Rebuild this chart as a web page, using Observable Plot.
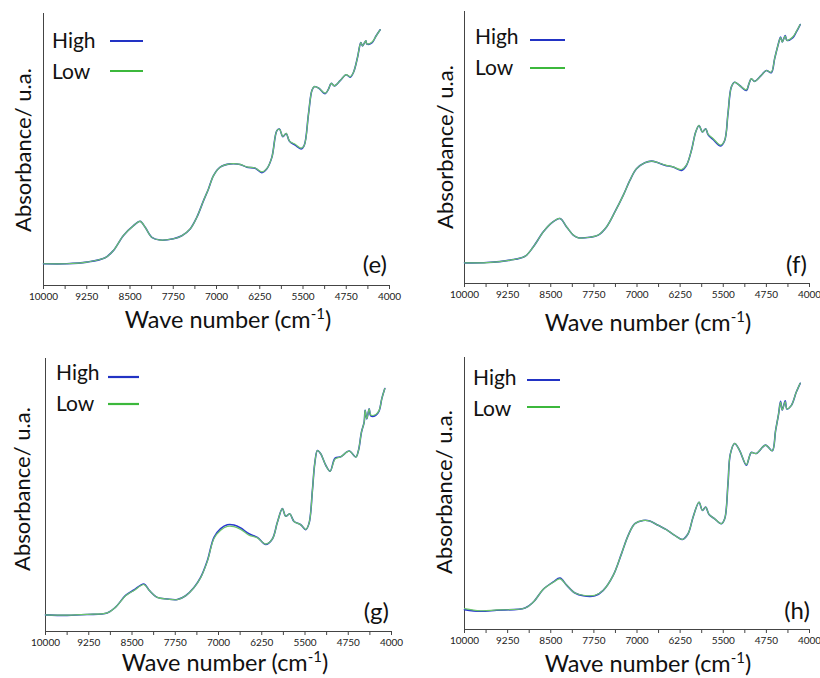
<!DOCTYPE html>
<html><head><meta charset="utf-8">
<script src="https://cdn.jsdelivr.net/npm/d3@7"></script>
<script src="https://cdn.jsdelivr.net/npm/@observablehq/plot@0.6"></script>
<style>
body{margin:0;background:#fff;}
#wrap{position:relative;width:820px;height:678px;overflow:hidden;}
.panel{position:absolute;}
.panel svg{font-family:Lato,"Open Sans",sans-serif;overflow:visible;}
</style></head><body><div id="wrap"></div>
<script>
// ---- tick labels / categories ----
const tickLabels = [10000, 9250, 8500, 7750, 7000, 6250, 5500, 4750, 4000];
const minorTicks = [9625, 8875, 8125, 7375, 6625, 5875, 5125, 4375];
const seriesNames = ["High", "Low"];
const seriesColors = ["#2233c4", "#3cb83c"];
const curveColors = ["#2a3ad0", "#6cc46c"];
const panelLabels = ["(e)", "(f)", "(g)", "(h)"];

// ---- panel (e) ----
const wnE   = [10000,9595,9249,8931,8786,8613,8439,8324,8237,8121,7977,7746,7601,7457,7341,7225,7139,7052,6936,6763,6590,6474,6329,6214,6127,6040,5954,5908,5850,5792,5734,5636,5532,5480,5405,5347,5306,5231,5116,5058,5012,4954,4856,4751,4682,4624,4555,4497,4468,4410,4393,4306,4231,4162];
const highE = [0.080,0.080,0.086,0.102,0.129,0.184,0.220,0.236,0.214,0.177,0.167,0.172,0.183,0.208,0.251,0.312,0.355,0.404,0.435,0.447,0.445,0.435,0.431,0.415,0.429,0.471,0.569,0.575,0.547,0.559,0.530,0.516,0.502,0.514,0.630,0.716,0.731,0.726,0.705,0.722,0.743,0.734,0.753,0.775,0.766,0.784,0.838,0.893,0.881,0.900,0.888,0.892,0.918,0.940];
const lowE  = [0.080,0.080,0.086,0.102,0.129,0.184,0.220,0.236,0.214,0.177,0.167,0.172,0.183,0.208,0.251,0.312,0.355,0.404,0.435,0.447,0.445,0.436,0.432,0.418,0.430,0.471,0.569,0.575,0.548,0.559,0.531,0.519,0.505,0.514,0.630,0.716,0.731,0.726,0.707,0.722,0.743,0.734,0.753,0.775,0.768,0.784,0.838,0.893,0.881,0.900,0.888,0.894,0.918,0.940];

// ---- panel (f) ----
const wnF   = [10000,9612,9207,8947,8802,8629,8484,8339,8224,8108,8021,7819,7674,7530,7385,7240,7124,7009,6864,6748,6633,6517,6372,6228,6141,6054,5979,5921,5863,5805,5765,5678,5545,5475,5418,5360,5302,5215,5099,5053,5012,4955,4839,4752,4665,4607,4549,4503,4474,4422,4393,4289,4231,4162];
const highF = [0.076,0.077,0.086,0.100,0.135,0.190,0.223,0.239,0.208,0.178,0.168,0.170,0.178,0.208,0.263,0.324,0.379,0.422,0.444,0.450,0.444,0.435,0.428,0.416,0.434,0.489,0.557,0.581,0.557,0.569,0.548,0.530,0.506,0.526,0.624,0.722,0.740,0.728,0.710,0.734,0.753,0.743,0.765,0.783,0.775,0.826,0.875,0.906,0.888,0.912,0.894,0.904,0.924,0.952];
const lowF  = [0.076,0.077,0.086,0.100,0.135,0.190,0.223,0.239,0.208,0.178,0.168,0.170,0.178,0.208,0.263,0.324,0.379,0.422,0.444,0.450,0.444,0.436,0.429,0.419,0.435,0.489,0.557,0.581,0.557,0.569,0.549,0.533,0.509,0.527,0.624,0.722,0.740,0.728,0.712,0.734,0.753,0.743,0.765,0.783,0.777,0.826,0.875,0.904,0.888,0.910,0.894,0.907,0.926,0.952];

// ---- panel (g) ----
const wnG   = [10000,9624,9277,8930,8785,8611,8467,8293,8206,8062,7888,7715,7570,7425,7310,7194,7078,6963,6847,6731,6615,6471,6326,6181,6066,5979,5892,5834,5765,5690,5574,5487,5429,5371,5331,5284,5227,5140,5065,4978,4879,4734,4618,4573,4521,4474,4457,4428,4387,4359,4272,4214,4168,4116];
const highG = [0.061,0.059,0.062,0.068,0.089,0.132,0.152,0.174,0.152,0.125,0.119,0.117,0.131,0.161,0.198,0.259,0.345,0.377,0.391,0.390,0.379,0.358,0.345,0.319,0.339,0.400,0.450,0.422,0.431,0.403,0.391,0.373,0.397,0.518,0.615,0.663,0.651,0.609,0.587,0.635,0.640,0.661,0.639,0.663,0.730,0.767,0.810,0.779,0.816,0.790,0.792,0.808,0.853,0.890];
const lowG  = [0.061,0.060,0.063,0.068,0.089,0.131,0.150,0.172,0.152,0.125,0.119,0.117,0.131,0.161,0.197,0.257,0.341,0.371,0.385,0.384,0.374,0.353,0.343,0.320,0.339,0.400,0.450,0.422,0.431,0.403,0.391,0.374,0.397,0.518,0.615,0.663,0.651,0.609,0.587,0.632,0.640,0.661,0.639,0.663,0.730,0.767,0.810,0.779,0.816,0.793,0.795,0.810,0.853,0.890];

// ---- panel (h) ----
const wnH   = [10000,9728,9439,8947,8802,8629,8455,8339,8224,8079,7934,7732,7587,7414,7269,7153,7038,6894,6777,6633,6488,6343,6210,6112,6025,5921,5863,5805,5747,5649,5533,5475,5418,5377,5302,5215,5099,5041,5012,4926,4764,4648,4590,4538,4503,4474,4422,4393,4318,4231,4162];
const highH = [0.073,0.067,0.071,0.079,0.101,0.148,0.175,0.189,0.163,0.134,0.124,0.124,0.144,0.199,0.279,0.346,0.389,0.401,0.399,0.383,0.367,0.346,0.331,0.352,0.413,0.468,0.438,0.450,0.423,0.407,0.389,0.407,0.535,0.645,0.684,0.658,0.604,0.639,0.651,0.647,0.678,0.657,0.731,0.792,0.839,0.807,0.841,0.811,0.823,0.872,0.905];
const lowH  = [0.077,0.069,0.072,0.079,0.101,0.148,0.174,0.186,0.163,0.134,0.126,0.126,0.144,0.199,0.279,0.346,0.389,0.401,0.399,0.383,0.367,0.346,0.331,0.352,0.413,0.468,0.438,0.450,0.423,0.407,0.389,0.407,0.535,0.645,0.684,0.658,0.606,0.639,0.651,0.647,0.678,0.657,0.731,0.792,0.836,0.807,0.838,0.811,0.823,0.872,0.905];

// ---- layout (not data) ----
const panels = [
  {wn: wnE, high: highE, low: lowE, label: panelLabels[0], left: 0,   top: 0,   w: 410, h: 340, m: [13, 21, 55, 43],
   leg: {tx: 52, hy: 48, ly: 79, x1: 110, x2: 143, hl: 41, ll: 71}, lab: [387, 273], yt: [31, 150], xt: [228, 328]},
  {wn: wnF, high: highF, low: lowF, label: panelLabels[1], left: 410, top: 0,   w: 410, h: 340, m: [11, 11, 57, 54],
   leg: {tx: 65, hy: 44, ly: 75, x1: 120, x2: 155, hl: 40, ll: 68}, lab: [397, 273], yt: [43, 147], xt: [238, 331]},
  {wn: wnG, high: highG, low: lowG, label: panelLabels[2], left: 0,   top: 340, w: 410, h: 338, m: [18, 19, 47, 45],
   leg: {tx: 56, hy: 40, ly: 71, x1: 108, x2: 139, hl: 37, ll: 64}, lab: [389, 280], yt: [30, 149], xt: [225, 331]},
  {wn: wnH, high: highH, low: lowH, label: panelLabels[3], left: 410, top: 340, w: 410, h: 338, m: [17, 11, 49, 54],
   leg: {tx: 63, hy: 45, ly: 76, x1: 117, x2: 150, hl: 40, ll: 67}, lab: [400, 279], yt: [42, 152], xt: [238, 332]}
];

const wrap = document.getElementById("wrap");

for (const p of panels) {
  const highRows = p.wn.map((w, i) => ({wn: w, a: p.high[i], s: seriesNames[0]}));
  const lowRows  = p.wn.map((w, i) => ({wn: w, a: p.low[i],  s: seriesNames[1]}));
  const chart = Plot.plot({
    width: p.w, height: p.h,
    marginTop: p.m[0], marginRight: p.m[1], marginBottom: p.m[2], marginLeft: p.m[3],
    style: {fontFamily: "Lato, 'Open Sans', sans-serif", background: "#fff", overflow: "visible"},
    x: {domain: [10000, 4000], label: null},
    y: {domain: [0, 1], axis: null},
    color: {domain: seriesNames, range: curveColors},
    marks: [
      Plot.ruleX([10000], {stroke: "#444", strokeWidth: 1}),
      Plot.ruleY([0], {stroke: "#444", strokeWidth: 1}),
      Plot.axisX({ticks: tickLabels, tickSize: 4, tickPadding: 3, tickFormat: d => String(d), fontSize: 10, fill: "#222", stroke: "#444", label: null}),
      Plot.axisX({ticks: minorTicks, tickSize: 4, tickFormat: () => "", stroke: "#444", label: null}),
      Plot.line(highRows, {x: "wn", y: "a", stroke: "s", strokeWidth: 1.6, curve: "catmull-rom"}),
      Plot.line(lowRows,  {x: "wn", y: "a", stroke: "s", strokeWidth: 1.2, curve: "catmull-rom"})
    ]
  });
  const div = document.createElement("div");
  div.className = "panel";
  div.style.left = p.left + "px";
  div.style.top = p.top + "px";
  div.appendChild(chart);
  wrap.appendChild(div);

  const svg = d3.select(chart);
  const g = svg.append("g").attr("font-family", "Lato, 'Open Sans', sans-serif").attr("fill", "#111").attr("text-anchor", "start");
  // legend
  const L = p.leg;
  [[seriesNames[0], L.hy, L.hl, seriesColors[0]], [seriesNames[1], L.ly, L.ll, seriesColors[1]]].forEach(([name, ty, ly, col]) => {
    g.append("text").attr("x", L.tx).attr("y", ty).attr("text-anchor", "start").attr("font-size", 21).text(name);
    g.append("line").attr("x1", L.x1).attr("x2", L.x2).attr("y1", ly).attr("y2", ly)
      .attr("stroke", col).attr("stroke-width", 2.2);
  });
  // panel label
  g.append("text").attr("x", p.lab[0]).attr("y", p.lab[1]).attr("text-anchor", "end").attr("font-size", 24).text(p.label);
  // y title
  g.append("text").attr("transform", `translate(${p.yt[0]},${p.yt[1]}) rotate(-90)`)
    .attr("text-anchor", "middle").attr("font-size", 22).text("Absorbance/ u.a.");
  // x title
  const xt = g.append("text").attr("x", p.xt[0]).attr("y", p.xt[1]).attr("text-anchor", "middle").attr("font-size", 23.5);
  xt.append("tspan").text("Wave number (cm");
  xt.append("tspan").attr("font-size", 15).attr("dy", -9).text("-1");
  xt.append("tspan").attr("dy", 9).text(")");
}
</script>
</body></html>
